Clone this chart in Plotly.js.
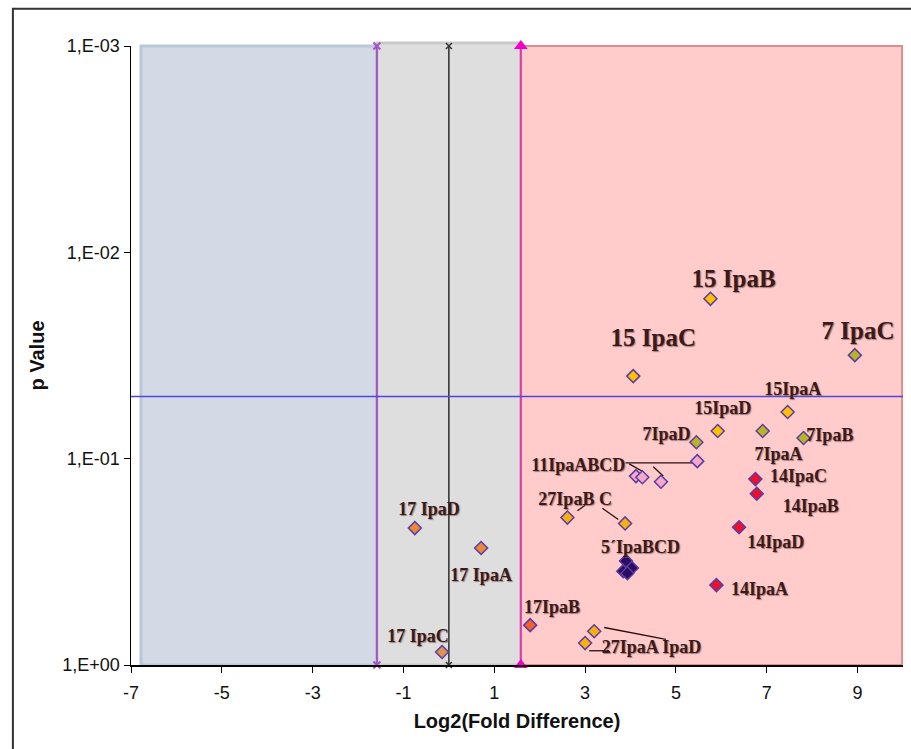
<!DOCTYPE html>
<html>
<head>
<meta charset="utf-8">
<script src="https://cdn.plot.ly/plotly-3.0.1.min.js"></script>
<style>html,body{margin:0;padding:0;background:#fff;}#chart{width:911px;height:749px;}</style>
</head>
<body>
<div id="chart"></div>
<script>
// ---- Data ----
const g15x = [5.76, 4.06, 7.46, 5.92];
const g15p = [0.0168, 0.0398, 0.0594, 0.0734];
const g7x = [8.94, 6.91, 7.81, 5.45];
const g7p = [0.0315, 0.0734, 0.0794, 0.0832];
const g11x = [5.47, 4.12, 4.26, 4.67];
const g11p = [0.1028, 0.1215, 0.123, 0.1294];
const g14x = [6.75, 6.78, 6.39, 5.89];
const g14p = [0.1256, 0.148, 0.215, 0.41];
const g27x = [2.61, 3.88, 3.20, 3.00];
const g27p = [0.193, 0.206, 0.686, 0.783];
const g5x = [3.90, 3.84, 4.03, 3.93];
const g5p = [0.313, 0.351, 0.339, 0.359];
const g17x = [-0.75, 0.71, 1.79, -0.15];
const g17p = [0.217, 0.271, 0.641, 0.865];

const pThreshold = 0.05;
const foldCut = 1.585;   // log2(3)
const xRange = [-7, 10];
const xTicks = [-7, -5, -3, -1, 1, 3, 5, 7, 9];
const xTickText = ['-7', '-5', '-3', '-1', '1', '3', '5', '7', '9'];
const yTickVals = [0.001, 0.01, 0.1, 1];
const yTickText = ['1,E-03', '1,E-02', '1,E-01', '1,E+00'];

const labelText = ['15 IpaB', '15 IpaC', '7 IpaC', '15IpaA', '15IpaD', '7IpaD', '7IpaB', '7IpaA',
  '11IpaABCD', '14IpaC', '14IpaB', '27IpaB C', '14IpaD', '5´IpaBCD', '14IpaA',
  '17 IpaD', '17 IpaA', '17IpaB', '17 IpaC', '27IpaA IpaD'];
const labelX = [6.27, 4.50, 9.01, 7.57, 6.03, 4.79, 8.39, 7.26,
  2.85, 7.70, 7.97, 2.78, 7.20, 4.22, 6.84,
  -0.44, 0.71, 2.27, -0.68, 4.46];
const labelP = [0.01377, 0.0266, 0.0246, 0.0465, 0.0575, 0.0776, 0.0785, 0.0962,
  0.1086, 0.124, 0.173, 0.159, 0.259, 0.271, 0.433,
  0.179, 0.371, 0.530, 0.733, 0.828];
const labelSize = [25, 25, 25, 18, 18, 18, 18, 18, 18, 18, 18, 18, 18, 18, 18, 18, 18, 18, 18, 18];

// leader lines [x0, x1, p0, p1]
const leaders = [
  [3.89, 5.43, 0.1047, 0.1047],
  [3.97, 4.28, 0.106, 0.1157],
  [4.50, 4.72, 0.1094, 0.1213],
  [2.83, 3.00, 0.179, 0.168],
  [3.38, 3.73, 0.174, 0.197],
  [3.42, 4.78, 0.658, 0.751],
  [3.09, 3.53, 0.853, 0.853]
];

const edge = '#5B3D9E';
function grp(x, y, color) {
  return {x: x, y: y, type: 'scatter', mode: 'markers', hoverinfo: 'skip',
    marker: {symbol: 'diamond', size: 10, color: color, line: {color: edge, width: 1.5}}};
}

const traces = [];
// vertical lines
traces.push({x: [-foldCut, -foldCut], y: [1, 0.001], mode: 'lines+markers', cliponaxis: false,
  line: {color: '#A552C8', width: 2}, marker: {symbol: 'x-thin', size: 7, line: {color: '#A552C8', width: 2}}});
traces.push({x: [0, 0], y: [1, 0.001], mode: 'lines+markers', cliponaxis: false,
  line: {color: '#111', width: 1.3}, marker: {symbol: 'x-thin', size: 6, line: {color: '#333', width: 1.5}}});
traces.push({x: [foldCut, foldCut], y: [1, 0.001], mode: 'lines+markers', cliponaxis: false,
  line: {color: '#E03CB0', width: 2}, marker: {symbol: 'triangle-up', size: 12, color: '#F000C8'}});
// p threshold line
traces.push({x: xRange, y: [pThreshold, pThreshold], mode: 'lines', line: {color: '#5046DC', width: 1.6}});
// leader lines
leaders.forEach(function (l) {
  traces.push({x: [l[0], l[1]], y: [l[2], l[3]], mode: 'lines', line: {color: '#2A1010', width: 1.3}});
});
traces.push(grp(g15x, g15p, '#FFC000'));
traces.push(grp(g7x, g7p, '#B8B42A'));
traces.push(grp(g11x, g11p, '#F4A8CC'));
traces.push(grp(g14x, g14p, '#EC1030'));
traces.push(grp(g27x, g27p, '#F7B012'));
traces.push(grp(g5x, g5p, '#2C0B62'));
traces.push(grp(g17x, g17p, ['#E8883A', '#E8883A', '#F2622C', '#E09050']));
// labels
traces.push({x: labelX, y: labelP, mode: 'text', text: labelText, textposition: 'middle center',
  cliponaxis: false, hoverinfo: 'skip',
  textfont: {family: 'Liberation Serif, Times New Roman, serif', weight: 'bold', size: labelSize,
    color: '#3A1A1A', shadow: '1px 1px 1px rgba(120,90,90,0.7)'}});

traces.forEach(function (t) { if (!t.type) t.type = 'scatter'; t.hoverinfo = 'skip'; });

const layout = {
  width: 911, height: 749,
  margin: {l: 131, r: 8, t: 46, b: 84},
  paper_bgcolor: '#ffffff', plot_bgcolor: '#ffffff',
  showlegend: false,
  font: {family: 'Liberation Sans, Arial, sans-serif', color: '#111'},
  xaxis: {range: xRange, tickvals: xTicks, ticktext: xTickText, ticks: 'outside', ticklen: 6, tickcolor: '#000',
    showline: true, linecolor: '#000', linewidth: 1.5, zeroline: false, showgrid: false,
    ticklabelstandoff: 5,
    tickfont: {size: 18, color: '#111'},
    title: {text: 'Log2(Fold Difference)', font: {size: 20, weight: 'bold', color: '#111'}, standoff: 12}},
  yaxis: {type: 'log', range: [0, -3], tickvals: yTickVals, ticktext: yTickText,
    ticks: 'outside', ticklen: 6, tickcolor: '#000', showline: true, linecolor: '#000', linewidth: 1.5,
    zeroline: false, showgrid: false, tickfont: {size: 18, color: '#111'},
    title: {text: 'p Value', font: {size: 20, weight: 'bold', color: '#111'}, standoff: 12}},
  shapes: [
    {type: 'rect', xref: 'paper', yref: 'paper', x0: -0.153, x1: 1.2, y0: -0.3, y1: 1.06,
      line: {color: '#333', width: 2}, fillcolor: 'rgba(0,0,0,0)', layer: 'below'},
    {type: 'rect', xref: 'x', yref: 'paper', x0: -6.78, x1: -foldCut, y0: 0, y1: 1,
      fillcolor: '#D3DAE6', line: {color: '#BAC7D8', width: 3}, layer: 'below'},
    {type: 'rect', xref: 'x', yref: 'paper', x0: -foldCut, x1: foldCut, y0: 0, y1: 1.005,
      fillcolor: '#DEDEDE', line: {color: '#C9C9C9', width: 3}, layer: 'below'},
    {type: 'rect', xref: 'x', yref: 'paper', x0: foldCut, x1: 9.98, y0: 0, y1: 1,
      fillcolor: '#FFCBCB', line: {color: '#DE8C8C', width: 2}, layer: 'below'}
  ]
};

Plotly.newPlot('chart', traces, layout, {displayModeBar: false, staticPlot: true});
</script>
</body>
</html>
